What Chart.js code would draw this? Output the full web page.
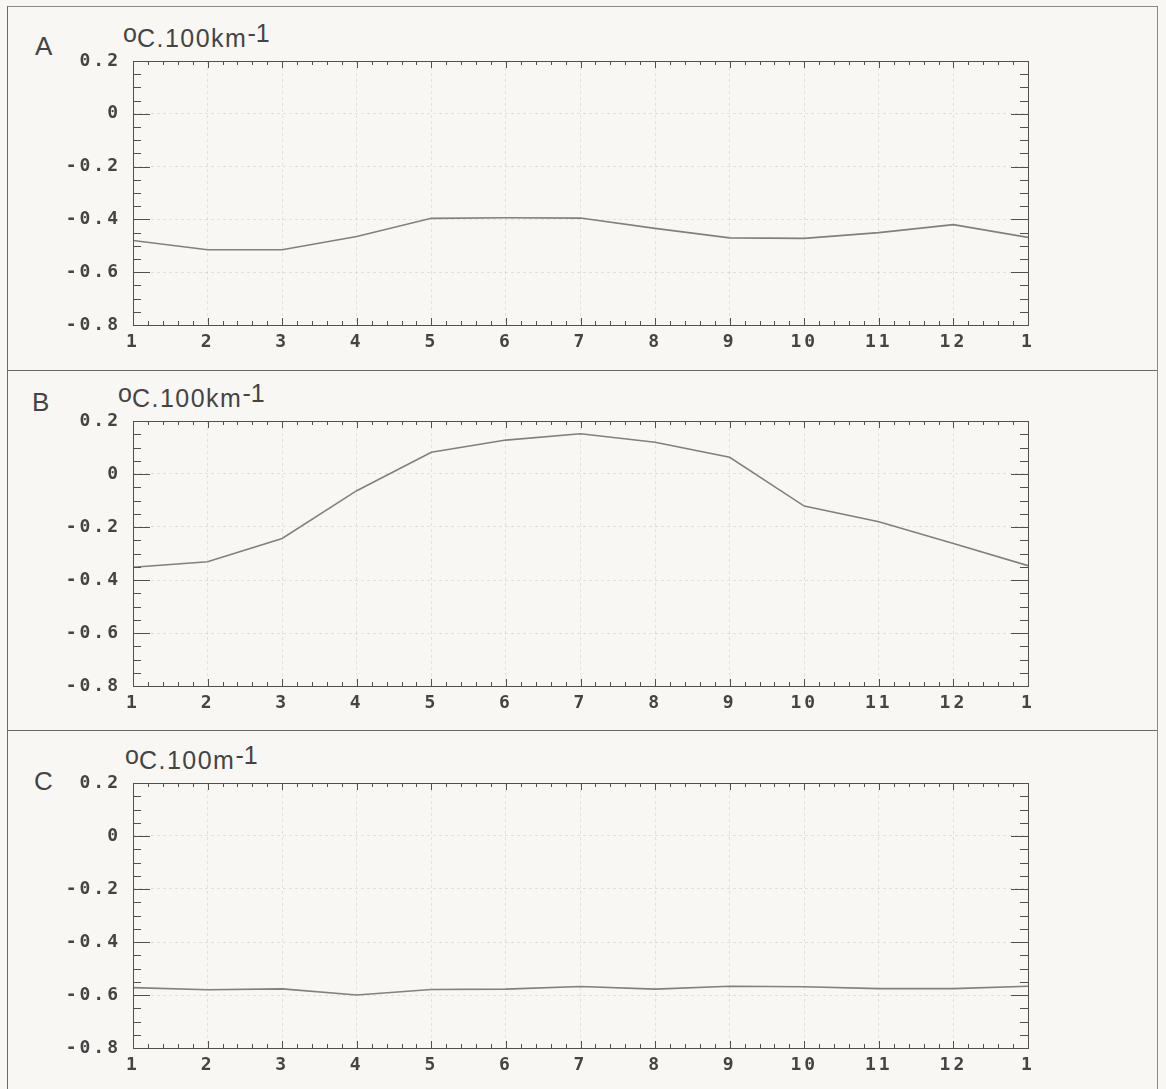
<!DOCTYPE html>
<html>
<head>
<meta charset="utf-8">
<script src="https://cdn.jsdelivr.net/npm/chart.js@4/dist/chart.umd.min.js"></script>
<style>
  html, body { margin: 0; padding: 0; }
  body { width: 1166px; height: 1089px; background: #f8f7f3; position: relative; overflow: hidden; }
  canvas { position: absolute; left: 0; }
  .frame { position: absolute; left: 7px; top: 6px; width: 1149px; height: 1100px;
           border-left: 1px solid #6a6a6a; border-top: 1px solid #8a8a8a; border-right: 1px solid #8a8a8a; }
  .sep { position: absolute; left: 7px; width: 1150px; height: 0; border-top: 1px solid #6a6a6a; }
  .letter, .unit { position: absolute; font-family: "Liberation Sans", Arial, sans-serif; font-size: 25px;
                   line-height: 25px; color: #444; white-space: nowrap; }
  .letter { font-size: 26px; }
  .unit { letter-spacing: 1.5px; }
  .unit span { position: relative; top: -5px; letter-spacing: 0; }
</style>
</head>
<body>
<div class="frame"></div>
<div class="sep" style="top:370px"></div>
<div class="sep" style="top:730px"></div>

<div class="letter" style="left:35px; top:34px">A</div>
<div class="unit" style="left:123px; top:26px"><span>o</span>C.100km<span>-1</span></div>
<div class="letter" style="left:32px; top:390px">B</div>
<div class="unit" style="left:118px; top:386px"><span>o</span>C.100km<span>-1</span></div>
<div class="letter" style="left:34px; top:769px">C</div>
<div class="unit" style="left:125px; top:748px"><span>o</span>C.100m<span>-1</span></div>

<canvas id="chartA" width="1166" height="360" style="top:0px"></canvas>
<canvas id="chartB" width="1166" height="361" style="top:360px"></canvas>
<canvas id="chartC" width="1166" height="361" style="top:722px"></canvas>

<script>
// --- DATA ---
const monthLabels = ['1', '2', '3', '4', '5', '6', '7', '8', '9', '10', '11', '12', '1'];
const yTicks = [-0.8, -0.6, -0.4, -0.2, 0, 0.2];

// A: horizontal gradient (oC per 100 km)
const gradA = [-0.48, -0.515, -0.515, -0.465, -0.396, -0.394, -0.395, -0.434, -0.47, -0.472, -0.45, -0.42, -0.468];
// B: horizontal gradient (oC per 100 km)
const gradB = [-0.352, -0.331, -0.243, -0.063, 0.082, 0.128, 0.152, 0.12, 0.063, -0.121, -0.18, -0.262, -0.346];
// C: vertical gradient (oC per 100 m)
const gradC = [-0.572, -0.58, -0.577, -0.6, -0.579, -0.578, -0.568, -0.578, -0.567, -0.569, -0.576, -0.576, -0.567];

const INK = '#444';

// spaced-out plotter style digits
const letterSpacing = {
    id: 'letterSpacing',
    beforeDraw(chart) {
        chart.ctx.letterSpacing = '3px';
    }
};

// box round the plot with major/minor ticks on all four sides
const frameTicks = {
    id: 'frameTicks',
    afterDraw(chart) {
        const { ctx, chartArea: a, scales: { x, y } } = chart;
        ctx.save();
        ctx.strokeStyle = '#505050';
        ctx.lineWidth = 1;
        ctx.strokeRect(Math.round(a.left) + 0.5, Math.round(a.top) + 0.5,
                       Math.round(a.right - a.left), Math.round(a.bottom - a.top));
        ctx.beginPath();
        // y: minor every 0.05, major every 0.2
        for (let k = 0; k <= 20; k++) {
            const v = yTicks[0] + k * 0.05;
            const py = Math.round(y.getPixelForValue(v)) + 0.5;
            const len = k % 4 === 0 ? 17 : 8;
            ctx.moveTo(a.left, py); ctx.lineTo(a.left + len, py);
            ctx.moveTo(a.right, py); ctx.lineTo(a.right - len, py);
        }
        // x: five minor steps per month
        const steps = (monthLabels.length - 1) * 5;
        for (let k = 0; k <= steps; k++) {
            const px = Math.round(x.getPixelForValue(k / 5)) + 0.5;
            const len = k % 5 === 0 ? 7 : 4;
            ctx.moveTo(px, a.bottom); ctx.lineTo(px, a.bottom - len);
            ctx.moveTo(px, a.top); ctx.lineTo(px, a.top + len);
        }
        ctx.stroke();
        ctx.restore();
    }
};

function makePanel(canvasId, values) {
    const ctx = document.getElementById(canvasId).getContext('2d');
    return new Chart(ctx, {
        type: 'line',
        data: {
            datasets: [{
                data: values.map((v, i) => ({ x: i, y: v })),
                borderColor: '#808080',
                borderWidth: 1.6,
                pointRadius: 0,
                tension: 0,
                fill: false
            }]
        },
        options: {
            responsive: false,
            animation: false,
            events: [],
            layout: { padding: { top: 61, left: 0, right: 138, bottom: 0 } },
            plugins: { legend: { display: false }, tooltip: { enabled: false } },
            scales: {
                x: {
                    type: 'linear',
                    min: 0,
                    max: monthLabels.length - 1,
                    afterBuildTicks: s => { s.ticks = monthLabels.map((_, i) => ({ value: i })); },
                    afterFit: s => { s.height = 35; },
                    ticks: {
                        autoSkip: false,
                        maxRotation: 0,
                        padding: 7,
                        color: INK,
                        font: { family: 'DejaVu Sans Mono', size: 18, weight: 'bold' },
                        callback: (v) => monthLabels[v]
                    },
                    grid: { color: 'rgba(0,0,0,0.09)', lineWidth: 1, drawTicks: false },
                    border: { display: false, dash: [3, 3] }
                },
                y: {
                    min: yTicks[0],
                    max: yTicks[yTicks.length - 1],
                    afterBuildTicks: s => { s.ticks = yTicks.map(v => ({ value: v })); },
                    afterFit: s => { s.width = 133; },
                    ticks: {
                        padding: 12,
                        color: INK,
                        font: { family: 'DejaVu Sans Mono', size: 18, weight: 'bold' },
                        callback: (v) => Math.abs(v) < 1e-9 ? '0' : v.toFixed(1)
                    },
                    grid: { color: 'rgba(0,0,0,0.09)', lineWidth: 1, drawTicks: false },
                    border: { display: false, dash: [3, 3] }
                }
            }
        },
        plugins: [letterSpacing, frameTicks]
    });
}

makePanel('chartA', gradA);
makePanel('chartB', gradB);
makePanel('chartC', gradC);
</script>
</body>
</html>
